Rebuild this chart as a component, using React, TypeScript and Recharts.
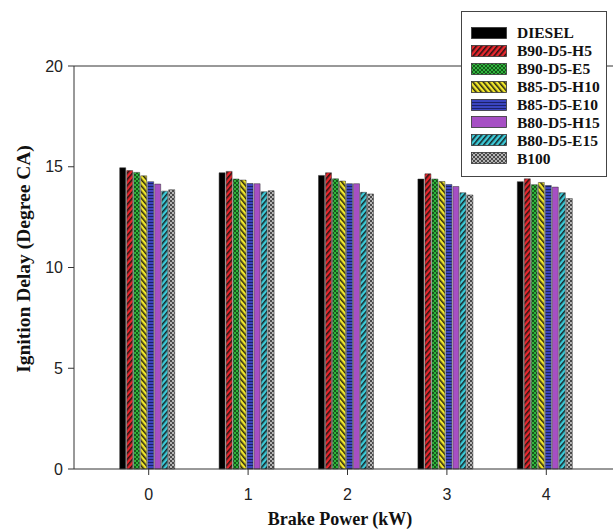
import React from 'react';
import { BarChart, Bar, XAxis, YAxis, Legend, ReferenceLine } from 'recharts';

const categories = ['0', '1', '2', '3', '4'];
const seriesNames = ['DIESEL', 'B90-D5-H5', 'B90-D5-E5', 'B85-D5-H10', 'B85-D5-E10', 'B80-D5-H15', 'B80-D5-E15', 'B100'];
const diesel = [14.95, 14.7, 14.57, 14.39, 14.26];
const b90h5 = [14.81, 14.77, 14.7, 14.65, 14.4];
const b90e5 = [14.72, 14.39, 14.4, 14.39, 14.11];
const b85h10 = [14.55, 14.34, 14.29, 14.27, 14.22];
const b85e10 = [14.26, 14.17, 14.16, 14.12, 14.07];
const b80h15 = [14.14, 14.16, 14.16, 14.02, 13.99];
const b80e15 = [13.79, 13.76, 13.73, 13.71, 13.71];
const b100 = [13.86, 13.81, 13.65, 13.6, 13.42];
const yTicks = [0, 5, 10, 15, 20];

const seriesValues = [diesel, b90h5, b90e5, b85h10, b85e10, b80h15, b80e15, b100];
const fills = ['#000000', 'url(#pRed)', 'url(#pGreen)', 'url(#pYellow)', 'url(#pBlue)', '#a64fc4', 'url(#pCyan)', 'url(#pGray)'];

const data = categories.map((c, i) => {
  const row: any = { power: c };
  seriesNames.forEach((s, j) => {
    row[s] = seriesValues[j][i];
  });
  return row;
});

const serif = '"Liberation Serif", "Times New Roman", serif';
const sans = '"Liberation Sans", Arial, sans-serif';

const Patterns = () => (
  <svg width={0} height={0} style={{ position: 'absolute' }}>
    <defs>
      <pattern id="pRed" width={4} height={4} patternUnits="userSpaceOnUse" patternTransform="rotate(40)">
        <rect width={4} height={4} fill="#e8262c" />
        <line x1={0.8} y1={0} x2={0.8} y2={4} stroke="#111" strokeWidth={1.4} />
      </pattern>
      <pattern id="pGreen" width={4} height={4} patternUnits="userSpaceOnUse">
        <rect width={4} height={4} fill="#2fb53c" />
        <circle cx={1} cy={1} r={0.9} fill="#0a2a0a" />
        <circle cx={3} cy={3} r={0.9} fill="#0a2a0a" />
      </pattern>
      <pattern id="pYellow" width={4} height={4} patternUnits="userSpaceOnUse" patternTransform="rotate(-40)">
        <rect width={4} height={4} fill="#f0e62a" />
        <line x1={0.8} y1={0} x2={0.8} y2={4} stroke="#111" strokeWidth={1.4} />
      </pattern>
      <pattern id="pBlue" width={4} height={3} patternUnits="userSpaceOnUse">
        <rect width={4} height={3} fill="#3a45c0" />
        <line x1={0} y1={0.5} x2={4} y2={0.5} stroke="#141850" strokeWidth={0.8} />
      </pattern>
      <pattern id="pCyan" width={4} height={4} patternUnits="userSpaceOnUse" patternTransform="rotate(40)">
        <rect width={4} height={4} fill="#3ccbd9" />
        <line x1={0.8} y1={0} x2={0.8} y2={4} stroke="#111" strokeWidth={1.4} />
      </pattern>
      <pattern id="pGray" width={4} height={4} patternUnits="userSpaceOnUse">
        <rect width={4} height={4} fill="#4a4a4a" />
        <circle cx={1} cy={1} r={0.9} fill="#e8e8e8" />
        <circle cx={3} cy={3} r={0.9} fill="#e8e8e8" />
      </pattern>
    </defs>
  </svg>
);

const LegendBox = () => (
  <div
    style={{
      width: 146,
      height: 166,
      border: '1px solid #444',
      background: '#fff',
      boxSizing: 'border-box',
      paddingTop: 12,
      paddingLeft: 9,
    }}
  >
    {seriesNames.map((s, i) => (
      <div key={s} style={{ display: 'flex', alignItems: 'center', height: 17.9 }}>
        <svg width={36} height={12} style={{ display: 'block' }}>
          <rect x={0.5} y={0.5} width={35} height={11} fill={fills[i]} stroke="#333" strokeWidth={0.8} />
        </svg>
        <span
          style={{
            marginLeft: 10,
            fontFamily: serif,
            fontWeight: 'bold',
            fontSize: 15.5,
            color: '#111',
            lineHeight: '17px',
            whiteSpace: 'nowrap',
          }}
        >
          {s}
        </span>
      </div>
    ))}
  </div>
);

const YLabel = () => {
  const cx = 23;
  const cy = 259;
  return (
    <text
      x={cx}
      y={cy}
      transform={`rotate(-90, ${cx}, ${cy})`}
      textAnchor="middle"
      dominantBaseline="central"
      style={{ fontFamily: serif, fontWeight: 'bold', fontSize: 19.5, fill: '#111' }}
    >
      Ignition Delay (Degree CA)
    </text>
  );
};

const XLabel = (props: any) => {
  const vb = props.viewBox || { x: 74, y: 469, width: 566, height: 62 };
  return (
    <text
      x={340}
      y={vb.y + 50}
      textAnchor="middle"
      dominantBaseline="central"
      style={{ fontFamily: serif, fontWeight: 'bold', fontSize: 18, fill: '#111' }}
    >
      Brake Power (kW)
    </text>
  );
};

export default function App() {
  return (
    <div style={{ position: 'absolute', left: 0, top: 0, width: 613, height: 531, overflow: 'hidden', background: '#fff' }}>
      <Patterns />
      <BarChart
        width={640}
        height={531}
        data={data}
        margin={{ top: 66, right: 0, bottom: 0, left: 0 }}
        barCategoryGap={20.7}
        barGap={1}
      >
        <XAxis
          dataKey="power"
          padding={{ left: 25, right: 44 }}
          tickSize={6}
          tickMargin={14}
          axisLine={{ stroke: '#333' }}
          tickLine={{ stroke: '#333' }}
          tick={{ fontFamily: sans, fontSize: 16, fill: '#222' }}
          height={62}
          label={{ content: XLabel }}
        />
        <YAxis
          domain={[0, 20]}
          ticks={yTicks}
          width={74}
          tickSize={6}
          tickMargin={5}
          axisLine={{ stroke: '#333' }}
          tickLine={{ stroke: '#333' }}
          tick={{ fontFamily: sans, fontSize: 16, fill: '#222' }}
          label={{ content: YLabel }}
        />
        <ReferenceLine y={20} stroke="#333" ifOverflow="visible" />
        {seriesNames.map((s, i) => (
          <Bar key={s} dataKey={s} fill={fills[i]} stroke="#333" strokeWidth={0.5} isAnimationActive={false} />
        ))}
        <Legend
          layout="vertical"
          align="center"
          verticalAlign="middle"
          wrapperStyle={{ left: 461, top: 11, width: 146 }}
          content={() => <LegendBox />}
        />
      </BarChart>
    </div>
  );
}
